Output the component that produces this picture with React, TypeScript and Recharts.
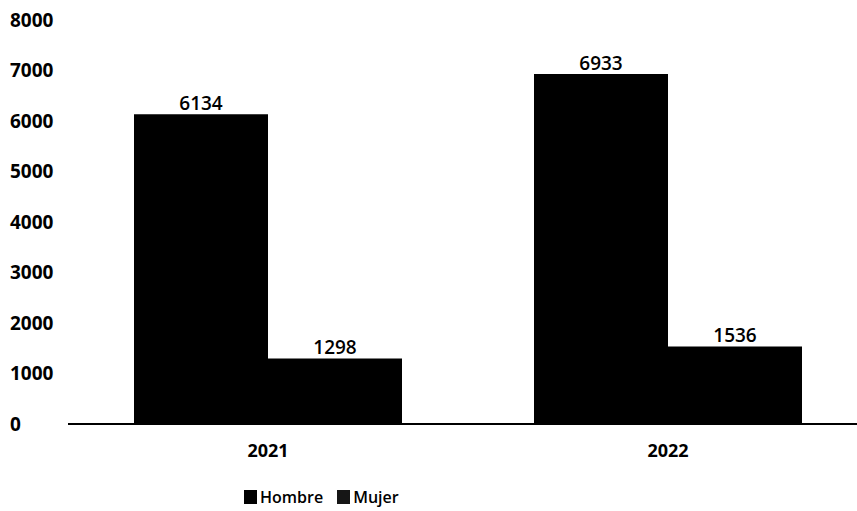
import { BarChart, Bar, XAxis, YAxis, Legend, LabelList } from 'recharts'

// Annual headcount split by sex
const years = ['2021', '2022']
const hombre = [6134, 6933]
const mujer = [1298, 1536]
const yTicks = [0, 1000, 2000, 3000, 4000, 5000, 6000, 7000, 8000]

const data = years.map((year, i) => ({ year, Hombre: hombre[i], Mujer: mujer[i] }))

const FONT = '"Open Sans", "DejaVu Sans", sans-serif'
const INK = '#000000'
const HOMBRE = '#000000'
const MUJER = '#000000'

// y labels sit flush left, like the spreadsheet export
function LeftTick({ y, payload }: { y?: number; payload?: { value: number } }) {
  return (
    <text x={10} y={y} dy="0.36em" textAnchor="start" fontFamily={FONT} fontSize={19} fontWeight={700} fill={INK}>
      {payload?.value}
    </text>
  )
}

function LegendBox() {
  const items = [
    { name: 'Hombre', color: HOMBRE },
    { name: 'Mujer', color: '#161616' },
  ]
  return (
    <div style={{ display: 'flex', gap: 14, height: 24, alignItems: 'center', fontFamily: FONT, fontSize: 16, fontWeight: 600, color: INK }}>
      {items.map((it) => (
        <span key={it.name} style={{ display: 'flex', alignItems: 'center' }}>
          <span style={{ width: 13, height: 14, background: it.color, display: 'inline-block', marginRight: 3 }} />
          {it.name}
        </span>
      ))}
    </div>
  )
}

export default function App() {
  return (
    <div style={{ position: 'absolute', left: 0, top: 0, width: 857, height: 511, overflow: 'hidden', background: '#fff' }}>
      <BarChart
        width={870}
        height={511}
        data={data}
        margin={{ top: 20, right: 2, left: 0, bottom: 33 }}
        barCategoryGap="16.5%"
        barGap={0}
      >
        <XAxis
          dataKey="year"
          axisLine={{ stroke: INK, strokeWidth: 2 }}
          tickLine={false}
          tickSize={6}
          tickMargin={14}
          height={30}
          tick={{ fontFamily: FONT, fontSize: 18, fontWeight: 700, fill: INK }}
        />
        <YAxis
          domain={[0, 8000]}
          ticks={yTicks}
          width={68}
          axisLine={false}
          tickLine={false}
          tick={<LeftTick />}
        />
        <Legend
          verticalAlign="bottom"
          content={<LegendBox />}
          wrapperStyle={{ left: 244, top: 485, width: 'auto' }}
        />
        <Bar dataKey="Hombre" fill={HOMBRE} isAnimationActive={false}>
          <LabelList dataKey="Hombre" position="top" offset={4} fontFamily={FONT} fontSize={19} fontWeight={600} fill={INK} />
        </Bar>
        <Bar dataKey="Mujer" fill={MUJER} isAnimationActive={false}>
          <LabelList dataKey="Mujer" position="top" offset={4} fontFamily={FONT} fontSize={19} fontWeight={600} fill={INK} />
        </Bar>
      </BarChart>
    </div>
  )
}
